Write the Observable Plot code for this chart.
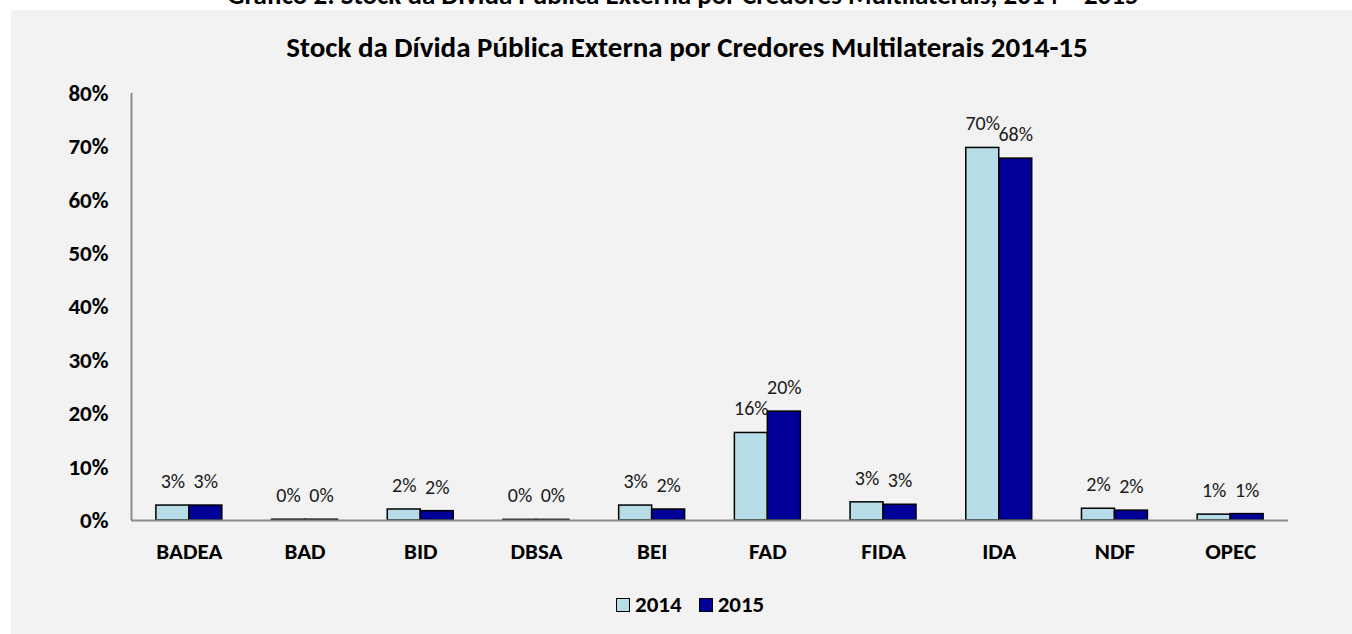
<!DOCTYPE html>
<html>
<head>
<meta charset="utf-8">
<script src="https://cdn.jsdelivr.net/npm/d3@7"></script>
<script src="https://cdn.jsdelivr.net/npm/@observablehq/plot@0.6"></script>
<style>
  html, body { margin: 0; padding: 0; background: #ffffff; width: 1352px; height: 634px; overflow: hidden; font-family: Carlito, Lato, sans-serif; }
  #toptitle { position: absolute; top: -19px; left: 0; width: 1366px; text-align: center; font-weight: bold; font-size: 27px; line-height: 27px; color: #000; z-index: 0; white-space: nowrap; }
  #panel { position: absolute; left: 11px; top: 10px; width: 1341px; height: 624px; background: #f2f2f2; z-index: 1; overflow: hidden; }
  #title { position: absolute; top: 23px; left: 0; width: 1352px; text-align: center; font-weight: bold; font-size: 29px; line-height: 29px; color: #000; white-space: nowrap; }
  #chart { position: absolute; top: 60px; left: 0; }
  #legend { position: absolute; top: 583px; left: 605px; font-weight: bold; font-size: 23px; line-height: 23px; color: #000; white-space: nowrap; display: flex; align-items: center; }
  .item { display: inline-flex; align-items: center; margin-right: 17px; }
  .sw { display: inline-block; width: 12px; height: 12px; border: 1.5px solid #000; margin-right: 5px; }
</style>
</head>
<body>
<div id="toptitle">Gráfico 2: Stock da Dívida Pública Externa por Credores Multilaterais, 2014 – 2015</div>
<div id="panel">
  <div id="title">Stock da Dívida Pública Externa por Credores Multilaterais 2014-15</div>
  <div id="chart"></div>
  <div id="legend"></div>
</div>
<script>
const categories = ["BADEA", "BAD", "BID", "DBSA", "BEI", "FAD", "FIDA", "IDA", "NDF", "OPEC"];
const years = ["2014", "2015"];
const values2014 = [0.028, 0.0015, 0.0206, 0.0012, 0.028, 0.164, 0.034, 0.698, 0.022, 0.011];
const values2015 = [0.028, 0.0015, 0.0175, 0.0012, 0.0206, 0.204, 0.0295, 0.678, 0.0185, 0.012];
const yTicks = [0, 0.1, 0.2, 0.3, 0.4, 0.5, 0.6, 0.7, 0.8];
const colors = ["#b7dee8", "#000099"];

const half = 0.285;
const pct = d3.format(".0%");
const data = categories.flatMap((c, i) => [
  {cat: c, i, year: years[0], value: values2014[i]},
  {cat: c, i, year: years[1], value: values2015[i]}
]);
const left = d => d.year === years[0] ? d.i - half : d.i;
const right = d => d.year === years[0] ? d.i : d.i + half;
const mid = d => d.year === years[0] ? d.i - half / 2 : d.i + half / 2;

const chart = Plot.plot({
  width: 1341,
  height: 510,
  marginLeft: 120,
  marginRight: 64,
  marginTop: 23,
  marginBottom: 60,
  style: {background: "transparent", fontFamily: "Carlito, Lato, sans-serif", color: "#000"},
  x: {type: "linear", domain: [-0.5, categories.length - 0.5], axis: null},
  y: {domain: [0, 0.8], axis: null},
  color: {domain: years, range: colors},
  marks: [
    Plot.rect(data, {x1: left, x2: right, y1: () => 0, y2: "value", fill: "year", stroke: "#000", strokeWidth: 1.5}),
    Plot.ruleY([0], {stroke: "#8c8c8c", strokeWidth: 2}),
    Plot.ruleX([-0.5], {y1: 0, y2: 0.8, stroke: "#8c8c8c", strokeWidth: 2}),
    Plot.text(data, {x: mid, y: "value", text: d => pct(d.value), dy: -24, fontSize: 20, fill: "#1a1a1a"}),
    Plot.axisY(yTicks, {tickFormat: pct, tickSize: 0, tickPadding: 23, fontSize: 23, fontWeight: "bold", label: null}),
    Plot.axisX(d3.range(categories.length), {tickFormat: i => categories[i], tickSize: 0, tickPadding: 22, fontSize: 23, fontWeight: "bold", label: null})
  ]
});
document.getElementById("chart").appendChild(chart);

const legend = document.getElementById("legend");
years.forEach((y, k) => {
  const item = document.createElement("span");
  item.className = "item";
  const sw = document.createElement("span");
  sw.className = "sw";
  sw.style.background = colors[k];
  item.appendChild(sw);
  item.appendChild(document.createTextNode(y));
  legend.appendChild(item);
});
</script>
</body>
</html>
